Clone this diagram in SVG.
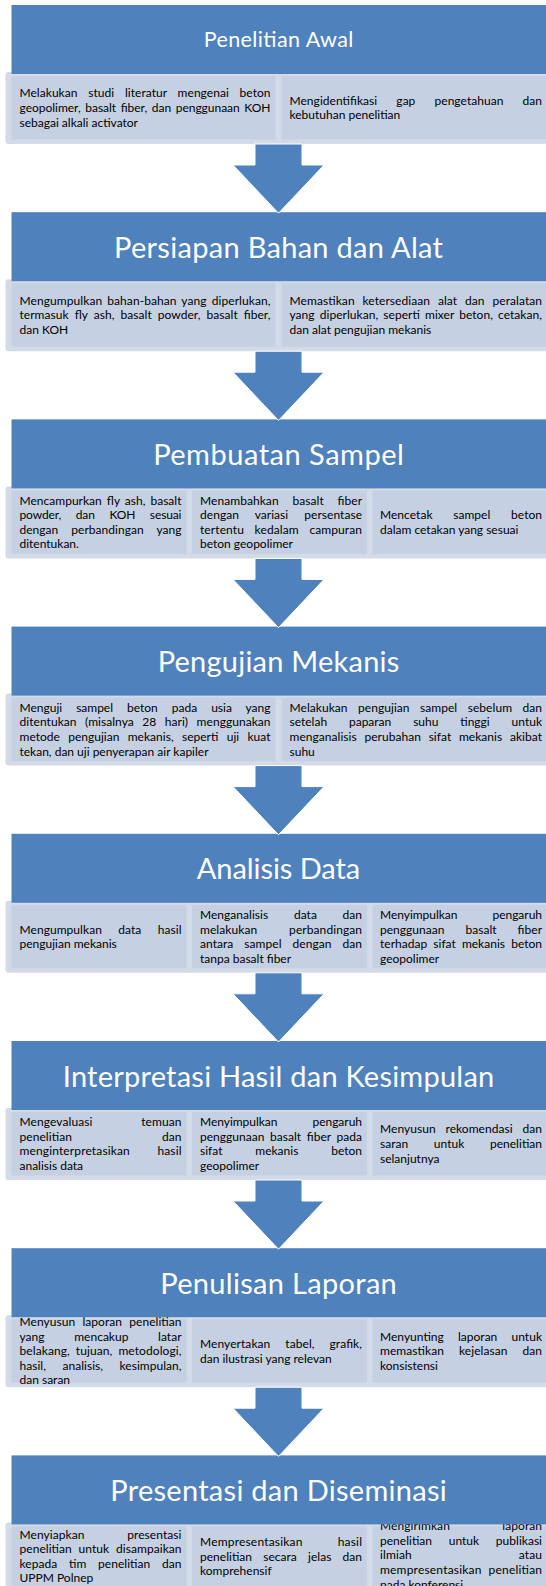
<svg xmlns="http://www.w3.org/2000/svg" width="546" height="1586" viewBox="0 0 546 1586">
<defs>
<style>
.hd{fill:#4f81bd}
.fr{fill:#d3dae8}
.cl{fill:#c5d0e3}
.tt{font-family:Lato,"Open Sans",sans-serif;fill:#fff;text-anchor:middle;font-size:29px}
.tx{font-family:Lato,"Open Sans",sans-serif;font-size:12px;fill:#000}
.ar{fill:#4f81bd;stroke:#fff;stroke-width:1}
</style>
</defs>
<rect width="546" height="1586" fill="#fff"/>

<g id="step1">
<rect class="fr" x="5.5" y="72" width="550" height="72" rx="3"/>
<g id="step1-c1"><rect class="cl" x="11.5" y="76" width="264" height="63.5"/>
<text class="tx" x="19.5" y="97.4" textLength="251" lengthAdjust="spacing" style="word-spacing:7.6px">Melakukan studi literatur mengenai beton</text>
<text class="tx" x="19.5" y="112" textLength="251" lengthAdjust="spacing" style="word-spacing:1.56px">geopolimer, basalt fiber, dan penggunaan KOH</text>
<text class="tx" x="19.5" y="126.6">sebagai alkali activator</text></g>
<g id="step1-c2"><rect class="cl" x="281.5" y="76" width="266" height="63.5"/>
<text class="tx" x="289.5" y="104.7" textLength="252.5" lengthAdjust="spacing" style="word-spacing:16px">Mengidentifikasi gap pengetahuan dan</text>
<text class="tx" x="289.5" y="119.3">kebutuhan penelitian</text></g>
<g id="step1-title"><rect class="hd" x="11.5" y="5" width="545" height="69"/>
<text class="tt" x="278.5" y="47.2" style="font-size:21.5px" textLength="149.6" lengthAdjust="spacing">Penelitian Awal</text></g>
</g>

<g id="step2">
<rect class="fr" x="5.5" y="279.2" width="550" height="72" rx="3"/>
<g id="step2-c1"><rect class="cl" x="11.5" y="283.2" width="264" height="63.5"/>
<text class="tx" x="19.5" y="304.6" textLength="251" lengthAdjust="spacing" style="word-spacing:1.93px">Mengumpulkan bahan-bahan yang diperlukan,</text>
<text class="tx" x="19.5" y="319.2" textLength="251" lengthAdjust="spacing" style="word-spacing:2.98px">termasuk fly ash, basalt powder, basalt fiber,</text>
<text class="tx" x="19.5" y="333.8">dan KOH</text></g>
<g id="step2-c2"><rect class="cl" x="281.5" y="283.2" width="266" height="63.5"/>
<text class="tx" x="289.5" y="304.6" textLength="252.5" lengthAdjust="spacing" style="word-spacing:4.65px">Memastikan ketersediaan alat dan peralatan</text>
<text class="tx" x="289.5" y="319.2" textLength="252.5" lengthAdjust="spacing" style="word-spacing:1.94px">yang diperlukan, seperti mixer beton, cetakan,</text>
<text class="tx" x="289.5" y="333.8">dan alat pengujian mekanis</text></g>
<g id="step2-title"><rect class="hd" x="11.5" y="212.2" width="545" height="69"/>
<text class="tt" x="278.5" y="257.7" textLength="329" lengthAdjust="spacing">Persiapan Bahan dan Alat</text></g>
</g>

<g id="step3">
<rect class="fr" x="5.5" y="486.4" width="550" height="72" rx="3"/>
<g id="step3-c1"><rect class="cl" x="11.5" y="490.4" width="175" height="63.5"/>
<text class="tx" x="19.5" y="504.5" textLength="162" lengthAdjust="spacing" style="word-spacing:1.9px">Mencampurkan fly ash, basalt</text>
<text class="tx" x="19.5" y="519.1" textLength="162" lengthAdjust="spacing" style="word-spacing:11.73px">powder, dan KOH sesuai</text>
<text class="tx" x="19.5" y="533.7" textLength="162" lengthAdjust="spacing" style="word-spacing:9.95px">dengan perbandingan yang</text>
<text class="tx" x="19.5" y="548.3">ditentukan.</text></g>
<g id="step3-c2"><rect class="cl" x="192" y="490.4" width="175" height="63.5"/>
<text class="tx" x="200" y="504.5" textLength="162" lengthAdjust="spacing" style="word-spacing:10.6px">Menambahkan basalt fiber</text>
<text class="tx" x="200" y="519.1" textLength="162" lengthAdjust="spacing" style="word-spacing:12.95px">dengan variasi persentase</text>
<text class="tx" x="200" y="533.7" textLength="162" lengthAdjust="spacing" style="word-spacing:7.45px">tertentu kedalam campuran</text>
<text class="tx" x="200" y="548.3">beton geopolimer</text></g>
<g id="step3-c3"><rect class="cl" x="372.5" y="490.4" width="175" height="63.5"/>
<text class="tx" x="380" y="519.1" textLength="162" lengthAdjust="spacing" style="word-spacing:17.6px">Mencetak sampel beton</text>
<text class="tx" x="380" y="533.7">dalam cetakan yang sesuai</text></g>
<g id="step3-title"><rect class="hd" x="11.5" y="419.4" width="545" height="69"/>
<text class="tt" x="278.5" y="464.9" textLength="250.7" lengthAdjust="spacing">Pembuatan Sampel</text></g>
</g>

<g id="step4">
<rect class="fr" x="5.5" y="693.6" width="550" height="72" rx="3"/>
<g id="step4-c1"><rect class="cl" x="11.5" y="697.6" width="264" height="63.5"/>
<text class="tx" x="19.5" y="711.7" textLength="251" lengthAdjust="spacing" style="word-spacing:10.94px">Menguji sampel beton pada usia yang</text>
<text class="tx" x="19.5" y="726.3" textLength="251" lengthAdjust="spacing" style="word-spacing:5.38px">ditentukan (misalnya 28 hari) menggunakan</text>
<text class="tx" x="19.5" y="740.9" textLength="251" lengthAdjust="spacing" style="word-spacing:5.18px">metode pengujian mekanis, seperti uji kuat</text>
<text class="tx" x="19.5" y="755.5">tekan, dan uji penyerapan air kapiler</text></g>
<g id="step4-c2"><rect class="cl" x="281.5" y="697.6" width="266" height="63.5"/>
<text class="tx" x="289.5" y="711.7" textLength="252.5" lengthAdjust="spacing" style="word-spacing:7.35px">Melakukan pengujian sampel sebelum dan</text>
<text class="tx" x="289.5" y="726.3" textLength="252.5" lengthAdjust="spacing" style="word-spacing:18.8px">setelah paparan suhu tinggi untuk</text>
<text class="tx" x="289.5" y="740.9" textLength="252.5" lengthAdjust="spacing" style="word-spacing:4.53px">menganalisis perubahan sifat mekanis akibat</text>
<text class="tx" x="289.5" y="755.5">suhu</text></g>
<g id="step4-title"><rect class="hd" x="11.5" y="626.6" width="545" height="69"/>
<text class="tt" x="278.5" y="672.1" textLength="241.7" lengthAdjust="spacing">Pengujian Mekanis</text></g>
</g>

<g id="step5">
<rect class="fr" x="5.5" y="900.8" width="550" height="72" rx="3"/>
<g id="step5-c1"><rect class="cl" x="11.5" y="904.8" width="175" height="63.5"/>
<text class="tx" x="19.5" y="933.5" textLength="162" lengthAdjust="spacing" style="word-spacing:13.25px">Mengumpulkan data hasil</text>
<text class="tx" x="19.5" y="948.1">pengujian mekanis</text></g>
<g id="step5-c2"><rect class="cl" x="192" y="904.8" width="175" height="63.5"/>
<text class="tx" x="200" y="918.9" textLength="162" lengthAdjust="spacing" style="word-spacing:22.55px">Menganalisis data dan</text>
<text class="tx" x="200" y="933.5" textLength="162" lengthAdjust="spacing" style="word-spacing:28.7px">melakukan perbandingan</text>
<text class="tx" x="200" y="948.1" textLength="162" lengthAdjust="spacing" style="word-spacing:7.93px">antara sampel dengan dan</text>
<text class="tx" x="200" y="962.7">tanpa basalt fiber</text></g>
<g id="step5-c3"><rect class="cl" x="372.5" y="904.8" width="175" height="63.5"/>
<text class="tx" x="380" y="918.9" textLength="162" lengthAdjust="spacing" style="word-spacing:32px">Menyimpulkan pengaruh</text>
<text class="tx" x="380" y="933.5" textLength="162" lengthAdjust="spacing" style="word-spacing:17.9px">penggunaan basalt fiber</text>
<text class="tx" x="380" y="948.1" textLength="162" lengthAdjust="spacing" style="word-spacing:3px">terhadap sifat mekanis beton</text>
<text class="tx" x="380" y="962.7">geopolimer</text></g>
<g id="step5-title"><rect class="hd" x="11.5" y="833.8" width="545" height="69"/>
<text class="tt" x="278.5" y="879.3" textLength="163.4" lengthAdjust="spacing">Analisis Data</text></g>
</g>

<g id="step6">
<rect class="fr" x="5.5" y="1108" width="550" height="72" rx="3"/>
<g id="step6-c1"><rect class="cl" x="11.5" y="1112" width="175" height="63.5"/>
<text class="tx" x="19.5" y="1126.1" textLength="162" lengthAdjust="spacing" style="word-spacing:45.4px">Mengevaluasi temuan</text>
<text class="tx" x="19.5" y="1140.7" textLength="162" lengthAdjust="spacing" style="word-spacing:86.9px">penelitian dan</text>
<text class="tx" x="19.5" y="1155.3" textLength="162" lengthAdjust="spacing" style="word-spacing:24.3px">menginterpretasikan hasil</text>
<text class="tx" x="19.5" y="1169.9">analisis data</text></g>
<g id="step6-c2"><rect class="cl" x="192" y="1112" width="175" height="63.5"/>
<text class="tx" x="200" y="1126.1" textLength="162" lengthAdjust="spacing" style="word-spacing:32px">Menyimpulkan pengaruh</text>
<text class="tx" x="200" y="1140.7" textLength="162" lengthAdjust="spacing" style="word-spacing:2.5px">penggunaan basalt fiber pada</text>
<text class="tx" x="200" y="1155.3" textLength="162" lengthAdjust="spacing" style="word-spacing:29.75px">sifat mekanis beton</text>
<text class="tx" x="200" y="1169.9">geopolimer</text></g>
<g id="step6-c3"><rect class="cl" x="372.5" y="1112" width="175" height="63.5"/>
<text class="tx" x="380" y="1133.4" textLength="162" lengthAdjust="spacing" style="word-spacing:6.65px">Menyusun rekomendasi dan</text>
<text class="tx" x="380" y="1148" textLength="162" lengthAdjust="spacing" style="word-spacing:22.45px">saran untuk penelitian</text>
<text class="tx" x="380" y="1162.6">selanjutnya</text></g>
<g id="step6-title"><rect class="hd" x="11.5" y="1041" width="545" height="69"/>
<text class="tt" x="278.5" y="1086.5" textLength="431.5" lengthAdjust="spacing">Interpretasi Hasil dan Kesimpulan</text></g>
</g>

<g id="step7">
<rect class="fr" x="5.5" y="1315.2" width="550" height="72" rx="3"/>
<g id="step7-c1"><rect class="cl" x="11.5" y="1319.2" width="175" height="63.5"/>
<text class="tx" x="19.5" y="1326" textLength="162" lengthAdjust="spacing" style="word-spacing:4.15px">Menyusun laporan penelitian</text>
<text class="tx" x="19.5" y="1340.6" textLength="162" lengthAdjust="spacing" style="word-spacing:26.6px">yang mencakup latar</text>
<text class="tx" x="19.5" y="1355.2" textLength="162" lengthAdjust="spacing" style="word-spacing:2.8px">belakang, tujuan, metodologi,</text>
<text class="tx" x="19.5" y="1369.8" textLength="162" lengthAdjust="spacing" style="word-spacing:13.4px">hasil, analisis, kesimpulan,</text>
<text class="tx" x="19.5" y="1384.4">dan saran</text></g>
<g id="step7-c2"><rect class="cl" x="192" y="1319.2" width="175" height="63.5"/>
<text class="tx" x="200" y="1347.9" textLength="162" lengthAdjust="spacing" style="word-spacing:11.8px">Menyertakan tabel, grafik,</text>
<text class="tx" x="200" y="1362.5">dan ilustrasi yang relevan</text></g>
<g id="step7-c3"><rect class="cl" x="372.5" y="1319.2" width="175" height="63.5"/>
<text class="tx" x="380" y="1340.6" textLength="162" lengthAdjust="spacing" style="word-spacing:11.1px">Menyunting laporan untuk</text>
<text class="tx" x="380" y="1355.2" textLength="162" lengthAdjust="spacing" style="word-spacing:11.7px">memastikan kejelasan dan</text>
<text class="tx" x="380" y="1369.8">konsistensi</text></g>
<g id="step7-title"><rect class="hd" x="11.5" y="1248.2" width="545" height="69"/>
<text class="tt" x="278.5" y="1293.7" textLength="236.6" lengthAdjust="spacing">Penulisan Laporan</text></g>
</g>

<g id="step8">
<rect class="fr" x="5.5" y="1522.4" width="550" height="72" rx="3"/>
<g id="step8-c1"><rect class="cl" x="11.5" y="1526.4" width="175" height="63.5"/>
<text class="tx" x="19.5" y="1538.5" textLength="162" lengthAdjust="spacing" style="word-spacing:39.6px">Menyiapkan presentasi</text>
<text class="tx" x="19.5" y="1553.1" textLength="162" lengthAdjust="spacing" style="word-spacing:3.65px">penelitian untuk disampaikan</text>
<text class="tx" x="19.5" y="1567.7" textLength="162" lengthAdjust="spacing" style="word-spacing:8.7px">kepada tim penelitian dan</text>
<text class="tx" x="19.5" y="1582.3">UPPM Polnep</text></g>
<g id="step8-c2"><rect class="cl" x="192" y="1526.4" width="175" height="63.5"/>
<text class="tx" x="200" y="1546" textLength="162" lengthAdjust="spacing" style="word-spacing:31.8px">Mempresentasikan hasil</text>
<text class="tx" x="200" y="1560.6" textLength="162" lengthAdjust="spacing" style="word-spacing:8.13px">penelitian secara jelas dan</text>
<text class="tx" x="200" y="1575.2">komprehensif</text></g>
<g id="step8-c3"><rect class="cl" x="372.5" y="1526.4" width="175" height="63.5"/>
<text class="tx" x="380" y="1530.2" textLength="162" lengthAdjust="spacing" style="word-spacing:49.1px">Mengirimkan laporan</text>
<text class="tx" x="380" y="1544.8" textLength="162" lengthAdjust="spacing" style="word-spacing:13.55px">penelitian untuk publikasi</text>
<text class="tx" x="380" y="1559.4" textLength="162" lengthAdjust="spacing" style="word-spacing:103.7px">ilmiah atau</text>
<text class="tx" x="380" y="1574" textLength="162" lengthAdjust="spacing" style="word-spacing:3.6px">mempresentasikan penelitian</text>
<text class="tx" x="380" y="1588.6">pada konferensi</text></g>
<g id="step8-title"><rect class="hd" x="11.5" y="1455.4" width="545" height="69"/>
<text class="tt" x="278.5" y="1500.9" textLength="336.5" lengthAdjust="spacing">Presentasi dan Diseminasi</text></g>
</g>

<g id="connectors">
<polygon class="ar" points="255,144 302,144 302,165 324,165 278.5,213.2 233,165 255,165"/>
<polygon class="ar" points="255,351.2 302,351.2 302,372.2 324,372.2 278.5,420.4 233,372.2 255,372.2"/>
<polygon class="ar" points="255,558.4 302,558.4 302,579.4 324,579.4 278.5,627.6 233,579.4 255,579.4"/>
<polygon class="ar" points="255,765.6 302,765.6 302,786.6 324,786.6 278.5,834.8 233,786.6 255,786.6"/>
<polygon class="ar" points="255,972.8 302,972.8 302,993.8 324,993.8 278.5,1042 233,993.8 255,993.8"/>
<polygon class="ar" points="255,1180 302,1180 302,1201 324,1201 278.5,1249.2 233,1201 255,1201"/>
<polygon class="ar" points="255,1387.2 302,1387.2 302,1408.2 324,1408.2 278.5,1456.4 233,1408.2 255,1408.2"/>
</g>
</svg>
